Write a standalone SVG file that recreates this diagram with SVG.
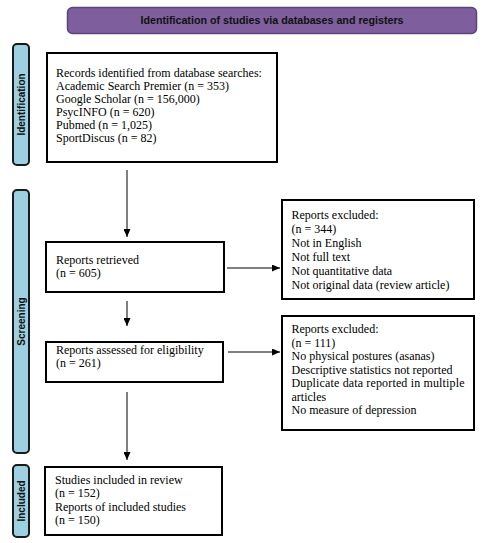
<svg xmlns="http://www.w3.org/2000/svg" width="484" height="543" viewBox="0 0 484 543">
<style>
.box{fill:#fff;stroke:#000;stroke-width:2}
.t{font-family:"Liberation Serif","Times New Roman",serif;font-size:12px;fill:#000}
.side{fill:#9dd0e0;stroke:#1a1a1a;stroke-width:2}
.sl{font-family:"Liberation Sans",Arial,sans-serif;font-size:10px;font-weight:bold;fill:#111;text-anchor:middle}
.c{stroke:#000;stroke-width:1;fill:none;marker-end:url(#ah)}
</style>
<defs>
<marker id="ah" markerUnits="userSpaceOnUse" markerWidth="8" markerHeight="7" refX="8" refY="3.5" orient="auto">
<path d="M0,0 L8,3.5 L0,7 z" fill="#000"/>
</marker>
</defs>
<g id="header">
<rect x="67.5" y="7.5" width="409" height="26" rx="5" fill="#7e5e9c" stroke="#5c4478" stroke-width="1.5"/>
<text x="272" y="24" style="font-family:'Liberation Sans',Arial,sans-serif;font-size:10.7px;font-weight:bold;fill:#111" text-anchor="middle">Identification of studies via databases and registers</text>
</g>
<g id="side-identification">
<rect class="side" x="13" y="44" width="16" height="121" rx="4"/>
<text class="sl" transform="translate(24.5,104.5) rotate(-90)">Identification</text>
</g>
<g id="side-screening">
<rect class="side" x="13" y="190" width="16" height="263" rx="4"/>
<text class="sl" transform="translate(24.5,321.5) rotate(-90)">Screening</text>
</g>
<g id="side-included">
<rect class="side" x="13" y="465" width="16" height="72" rx="4"/>
<text class="sl" transform="translate(24.5,501) rotate(-90)">Included</text>
</g>
<g id="connectors">
<line class="c" x1="127" y1="170" x2="127" y2="237"/>
<line class="c" x1="127" y1="301" x2="127" y2="326"/>
<line class="c" x1="127" y1="392" x2="127" y2="460"/>
<line class="c" x1="227" y1="268" x2="280" y2="268"/>
<line class="c" x1="228" y1="352" x2="280" y2="352"/>
</g>
<g id="records">
<rect class="box" x="47" y="53" width="230" height="109"/>
<text class="t" x="56" y="77">Records identified from database searches:</text>
<text class="t" x="56" y="90">Academic Search Premier (n = 353)</text>
<text class="t" x="56" y="103">Google Scholar (n = 156,000)</text>
<text class="t" x="56" y="116">PsycINFO (n = 620)</text>
<text class="t" x="56" y="129">Pubmed (n = 1,025)</text>
<text class="t" x="56" y="142">SportDiscus (n = 82)</text>
</g>
<g id="retrieved">
<rect class="box" x="46" y="242" width="178" height="50"/>
<text class="t" x="56" y="263.5">Reports retrieved</text>
<text class="t" x="56" y="277">(n = 605)</text>
</g>
<g id="excluded1">
<rect class="box" x="282" y="200" width="192" height="99"/>
<text class="t" x="291.5" y="219">Reports excluded:</text>
<text class="t" x="291.5" y="233">(n = 344)</text>
<text class="t" x="291.5" y="247">Not in English</text>
<text class="t" x="291.5" y="261">Not full text</text>
<text class="t" x="291.5" y="275">Not quantitative data</text>
<text class="t" x="291.5" y="289">Not original data (review article)</text>
</g>
<g id="assessed">
<rect class="box" x="46" y="342" width="177" height="40"/>
<text class="t" x="56" y="353.5">Reports assessed for eligibility</text>
<text class="t" x="56" y="367">(n = 261)</text>
</g>
<g id="excluded2">
<rect class="box" x="282" y="316" width="192" height="114"/>
<text class="t" x="291.5" y="333">Reports excluded:</text>
<text class="t" x="291.5" y="346.5">(n = 111)</text>
<text class="t" x="291.5" y="360">No physical postures (asanas)</text>
<text class="t" x="291.5" y="373.5">Descriptive statistics not reported</text>
<text class="t" x="291.5" y="387" textLength="173" lengthAdjust="spacing">Duplicate data reported in multiple</text>
<text class="t" x="291.5" y="400.5">articles</text>
<text class="t" x="291.5" y="414">No measure of depression</text>
</g>
<g id="included">
<rect class="box" x="45" y="467" width="177" height="68"/>
<text class="t" x="55" y="484">Studies included in review</text>
<text class="t" x="55" y="497.3">(n = 152)</text>
<text class="t" x="55" y="510.6">Reports of included studies</text>
<text class="t" x="55" y="524">(n = 150)</text>
</g>
</svg>
